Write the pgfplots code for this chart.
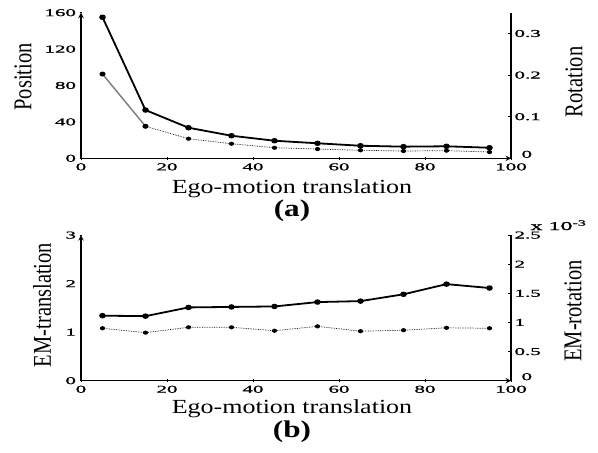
\documentclass[border=0pt]{standalone}
\usepackage{fontspec}
\setmainfont{Liberation Serif}
\newfontfamily\tickfont[FakeStretch=2.0, FakeBold=1.2]{Liberation Serif}
\newfontfamily\labfont[FakeStretch=1.3]{Liberation Serif}
\usepackage{pgfplots}
\pgfplotsset{compat=1.18}
\begin{document}
\begin{tikzpicture}
\useasboundingbox (0pt,0pt) rectangle (598pt,-453pt);
\pgfplotsset{
  base/.style={scale only axis, width=430pt, height=145.6pt, xmin=0, xmax=100,
    anchor=south west, clip=false,
    /pgf/number format/assume math mode=true,
    ticklabel style={font=\tickfont\fontsize{10.5}{10.5}\selectfont},
    tick align=inside, major tick length=3pt,
    every tick/.style={black, line width=0.8pt},
    axis line style={-, line width=1.4pt}},
  solid/.style={black, line width=1.8pt, mark=*, mark size=1.8pt, mark options={solid, xscale=1.3}},
  dots/.style={black, line width=0.7pt, densely dotted, mark=*, mark size=1.7pt, mark options={solid, xscale=1.3}},
  zero/.style={extra y ticks={0}, extra y tick style={yticklabel style={xshift=7pt, yshift=4pt}}},
}
% ---------- (a) ----------
\begin{axis}[base, at={(81pt,-158.3pt)}, axis x line=bottom, axis y line=left,
  ymin=0, ymax=160, ytick={0,40,80,120,160}, xtick={0,20,40,60,80,100}]
\addplot[solid] coordinates {(5,155) (15,53) (25,33.6) (35,24.8) (45,19.3) (55,16.5) (65,13.8) (75,12.8) (85,13.2) (95,11.6)};
\addplot[gray, line width=1.5pt, mark=*, mark size=1.7pt, mark options={black, xscale=1.3}] coordinates {(5,92.6) (15,35.2)};
\addplot[dots] coordinates {(15,35.2) (25,21.5) (35,16) (45,11.6) (55,10.2) (65,8.8) (75,8) (85,8.4) (95,6.9)};
\end{axis}
\begin{axis}[base, zero, at={(81pt,-158.3pt)}, axis x line=none, axis y line*=right,
  ymin=0, ymax=0.35, ytick={0.1,0.2,0.3},
  /pgf/number format/fixed, /pgf/number format/precision=1]
\end{axis}
\node[font=\labfont\fontsize{20}{20}\selectfont, anchor=base] at (292pt,-193pt) {Ego-motion translation};
\node[font=\labfont\bfseries\fontsize{24}{24}\selectfont, anchor=base] at (292pt,-216pt) {(a)};
\node[font=\fontsize{20.5}{20.5}\selectfont, xscale=1.25, rotate=90] at (23pt,-77pt) {Position};
\node[font=\fontsize{20.5}{20.5}\selectfont, xscale=1.25, rotate=90] at (574pt,-82pt) {Rotation};
% ---------- (b) ----------
\begin{axis}[base, at={(81pt,-380.7pt)}, axis x line=bottom, axis y line=left,
  ymin=0, ymax=3, ytick={0,1,2,3}, xtick={0,20,40,60,80,100}]
\addplot[solid] coordinates {(5,1.34) (15,1.33) (25,1.51) (35,1.52) (45,1.53) (55,1.62) (65,1.64) (75,1.78) (85,1.99) (95,1.91)};
\addplot[dots] coordinates {(5,1.08) (15,0.99) (25,1.10) (35,1.10) (45,1.03) (55,1.12) (65,1.02) (75,1.04) (85,1.09) (95,1.08)};
\end{axis}
\begin{axis}[base, zero, at={(81pt,-380.7pt)}, axis x line=none, axis y line*=right,
  ymin=0, ymax=2.5, ytick={0.5,1,1.5,2,2.5}]
\end{axis}
\node[font=\tickfont\fontsize{12}{12}\selectfont, anchor=base west] at (527pt,-230pt) {x 10\textsuperscript{-3}};
\node[font=\labfont\fontsize{20}{20}\selectfont, anchor=base] at (292pt,-413pt) {Ego-motion translation};
\node[font=\labfont\bfseries\fontsize{24}{24}\selectfont, anchor=base] at (292pt,-437pt) {(b)};
\node[font=\fontsize{20.5}{20.5}\selectfont, xscale=1.25, rotate=90] at (42pt,-305pt) {EM-translation};
\node[font=\fontsize{20.5}{20.5}\selectfont, xscale=1.25, rotate=90] at (573pt,-311pt) {EM-rotation};
\end{tikzpicture}
\end{document}
